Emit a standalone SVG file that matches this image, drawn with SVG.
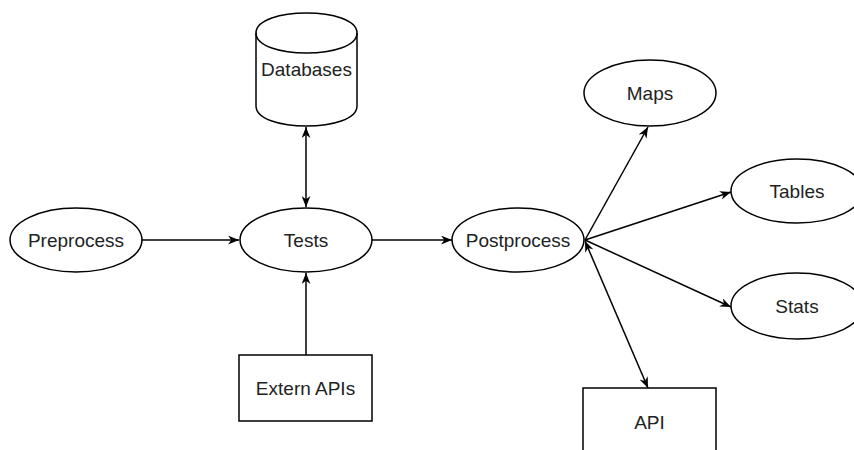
<svg xmlns="http://www.w3.org/2000/svg" width="854" height="450" viewBox="0 0 854 450">
<style>
.shape{fill:#ffffff;stroke:#000000;stroke-width:1.5}
.lbl{font-family:"Liberation Sans",Arial,sans-serif;font-size:19px;fill:#222222;text-anchor:middle;dominant-baseline:central}
.edge{fill:none;stroke:#000000;stroke-width:1.5}
</style>
<defs>
<marker id="arr" viewBox="0 0 10 8" markerWidth="11" markerHeight="9" refX="10" refY="4" orient="auto-start-reverse" markerUnits="userSpaceOnUse">
<path d="M0,0 L10,4 L0,8 L3,4 Z" fill="#000000"/>
</marker>
</defs>
<rect width="854" height="450" fill="#ffffff"/>
<g id="connectors">
<line class="edge" x1="142" y1="240" x2="239" y2="240" marker-end="url(#arr)"/>
<line class="edge" x1="372" y1="240" x2="452" y2="240" marker-end="url(#arr)"/>
<line class="edge" x1="306" y1="127" x2="306" y2="207" marker-start="url(#arr)" marker-end="url(#arr)"/>
<line class="edge" x1="306" y1="355" x2="306" y2="273" marker-end="url(#arr)"/>
<line class="edge" x1="585" y1="240" x2="648" y2="127" marker-end="url(#arr)"/>
<line class="edge" x1="585" y1="240" x2="731" y2="192" marker-end="url(#arr)"/>
<line class="edge" x1="585" y1="240" x2="731" y2="307" marker-end="url(#arr)"/>
<line class="edge" x1="585" y1="241" x2="648" y2="388" marker-start="url(#arr)" marker-end="url(#arr)"/>
</g>
<g id="databases">
<path class="shape" d="M256,33 C256,6.3 357,6.3 357,33 L357,106 C357,132.7 256,132.7 256,106 Z"/>
<path class="edge" d="M256,33 C256,59.7 357,59.7 357,33"/>
<text class="lbl" x="306.5" y="69">Databases</text>
</g>
<g id="preprocess">
<ellipse class="shape" cx="76" cy="240" rx="66" ry="32"/>
<text class="lbl" x="76" y="240">Preprocess</text>
</g>
<g id="tests">
<ellipse class="shape" cx="306" cy="240" rx="66" ry="32"/>
<text class="lbl" x="306" y="240">Tests</text>
</g>
<g id="postprocess">
<ellipse class="shape" cx="518" cy="240" rx="66" ry="32"/>
<text class="lbl" x="518" y="240">Postprocess</text>
</g>
<g id="maps">
<ellipse class="shape" cx="650" cy="93" rx="66" ry="33"/>
<text class="lbl" x="650" y="93">Maps</text>
</g>
<g id="tables">
<ellipse class="shape" cx="797" cy="191" rx="66" ry="32"/>
<text class="lbl" x="797" y="191">Tables</text>
</g>
<g id="stats">
<ellipse class="shape" cx="797" cy="306" rx="66" ry="33"/>
<text class="lbl" x="797" y="306">Stats</text>
</g>
<g id="extern-apis">
<rect class="shape" x="239" y="355" width="133" height="66"/>
<text class="lbl" x="305.5" y="388">Extern APIs</text>
</g>
<g id="api">
<rect class="shape" x="583" y="388" width="133" height="68"/>
<text class="lbl" x="649.5" y="422">API</text>
</g>
</svg>
